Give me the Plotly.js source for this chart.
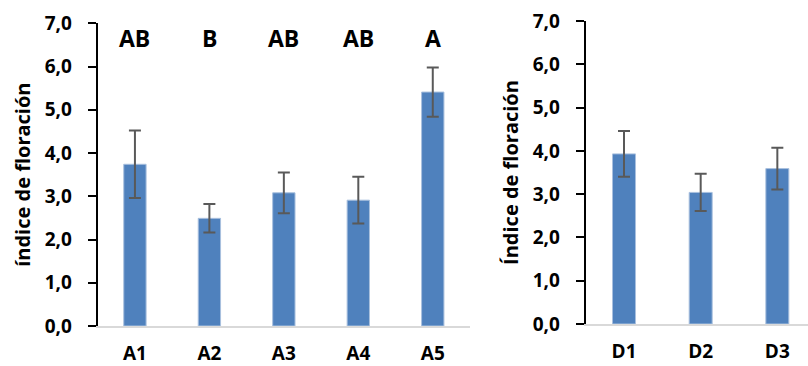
<!DOCTYPE html>
<html>
<head>
<meta charset="utf-8">
<script src="https://cdn.plot.ly/plotly-3.0.1.min.js"></script>
<style>
  html, body { margin: 0; padding: 0; background: #fff; }
  #chart { width: 808px; height: 366px; }
</style>
</head>
<body>
<div id="chart"></div>
<script>
// Left panel
const catsA = ["A1", "A2", "A3", "A4", "A5"];
const valsA = [3.74, 2.49, 3.08, 2.91, 5.41];
const errA = [0.78, 0.33, 0.47, 0.54, 0.57];
const lettersA = ["AB", "B", "AB", "AB", "A"];
// Right panel
const catsD = ["D1", "D2", "D3"];
const valsD = [3.93, 3.04, 3.59];
const errD = [0.53, 0.43, 0.48];

const yTicks = [0, 1, 2, 3, 4, 5, 6, 7];
const titleA = "índice de floración";
const titleD = "Índice de floración";

const FONT = "'Open Sans', Lato, 'DejaVu Sans', sans-serif";
const barColor = "#4f81bd";
const errColor = "#595959";

function barTrace(cats, vals, errs, xa, ya) {
  return {
    type: "bar", x: cats, y: vals, xaxis: xa, yaxis: ya,
    width: 0.3,
    marker: { color: barColor, line: { color: "#a9c0de", width: 1 } },
    error_y: { type: "data", array: errs, visible: true, color: errColor, thickness: 2, width: 6 },
    hoverinfo: "x+y", showlegend: false
  };
}

const data = [
  barTrace(catsA, valsA, errA, "x", "y"),
  barTrace(catsD, valsD, errD, "x2", "y2")
];

const tickFont = { family: FONT, size: 19, color: "#000", weight: "bold" };

function yAxis(domain, anchor, title, standoff) {
  return {
    domain: domain, anchor: anchor, range: [0, 7],
    tickvals: yTicks, tickformat: ".1f",
    ticks: "outside", ticklen: 8, tickwidth: 2, tickcolor: "#000",
    ticklabelposition: "outside", ticklabelstandoff: 12,
    showline: true, linecolor: "#000", linewidth: 2,
    showgrid: false, zeroline: false,
    tickfont: tickFont,
    title: { text: title, font: { family: FONT, size: 20, color: "#000", weight: "bold" }, standoff: standoff },
    fixedrange: true
  };
}

function xAxis(domain, anchor, range) {
  return {
    domain: domain, anchor: anchor, type: "category", range: range,
    showline: true, linecolor: "#d9d9d9", linewidth: 2,
    ticks: "", showgrid: false, zeroline: false,
    tickfont: tickFont, ticklabelstandoff: 9,
    fixedrange: true
  };
}

const annotations = lettersA.map((t, i) => ({
  x: catsA[i], y: 6.67, xref: "x", yref: "y", text: t, showarrow: false,
  font: { family: FONT, size: 23, color: "#000", weight: "bold" }
}));

const layout = {
  width: 808, height: 366,
  margin: { l: 0, r: 0, t: 0, b: 0 },
  paper_bgcolor: "#fff", plot_bgcolor: "#fff",
  separators: ",.",
  showlegend: false,
  xaxis: xAxis([97.7 / 808, 470 / 808], "y", [-0.5, 4.5]),
  yaxis: yAxis([1 - 326 / 366, 1 - 23.3 / 366], "x", titleA, 9),
  xaxis2: xAxis([585.7 / 808, 1], "y2", [-0.5, 2.4]),
  yaxis2: yAxis([1 - 324 / 366, 1 - 21 / 366], "x2", titleD, 9),
  annotations: annotations
};

Plotly.newPlot("chart", data, layout, { displayModeBar: false, staticPlot: true });
</script>
</body>
</html>
